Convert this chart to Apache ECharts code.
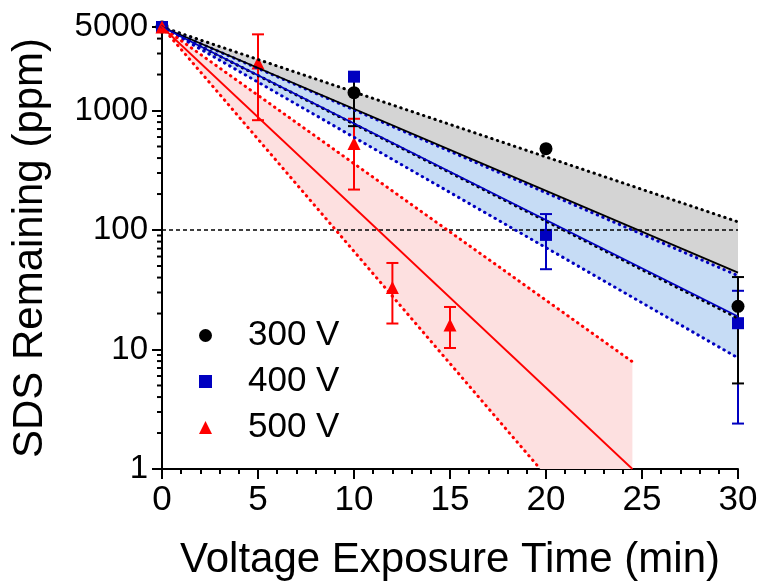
<!DOCTYPE html>
<html><head><meta charset="utf-8">
<script src="https://cdn.jsdelivr.net/npm/echarts@6/dist/echarts.min.js"></script>
<style>html,body{margin:0;padding:0;background:#fff}#c{width:760px;height:585px}</style>
</head><body><div id="c"></div>
<script>
const FONT = '"Liberation Sans", Arial, Helvetica, sans-serif';

const seriesNames = ['300 V', '400 V', '500 V'];

const times300 = [0, 10, 20, 30];
const sds300   = [5000, 1410, 479, 23];
const times400 = [0, 10, 20, 30];
const sds400   = [5000, 1920, 91, 16.6];
const times500 = [0, 5, 10, 12, 15];
const sds500   = [5000, 2500, 530, 33, 16];

// error bars
const errX300 = [10, 30];            const errLo300 = [740, 5.2];   const errHi300 = [2000, 40.4];
const errX400 = [20, 30];            const errLo400 = [47, 2.4];    const errHi400 = [136, 31];
const errX500 = [5, 10, 12, 15];     const errLo500 = [830, 218, 16.5, 10.3]; const errHi500 = [4340, 853, 53, 22.7];

// exponential fits (straight on log axis) and 95% bands
const fitX300 = [0, 30]; const fit300 = [5000, 44];   const fit300Up = [5000, 117];  const fit300Lo = [5000, 18.3];
const fitX400 = [0, 30]; const fit400 = [5000, 18.9]; const fit400Up = [5000, 41.5]; const fit400Lo = [5000, 8.5];
const fitX500 = [0, 24.5]; const fit500 = [5000, 1]; const fit500Up = [5000, 7.9];
const fitX500Lo = [0, 19.7, 24.5]; const fit500Lo = [5000, 1, 1];

// threshold line
const thresholdX = [0, 30]; const threshold = [100, 100];

// axis ticks
const yTickLabels = [1, 10, 100, 1000, 5000];
const yMinorTicks = [2,3,4,5,6,7,8,9,20,30,40,50,60,70,80,90,200,300,400,500,600,700,800,900,2000,3000,4000];

const C_BLACK = '#000000', C_BLUE = '#0000c0', C_RED = '#ff0000';

function pairs(xs, ys) { return xs.map((x, i) => [x, ys[i]]); }

function band(upX, upY, loX, loY, fill) {
  return {
    type: 'custom', silent: true, clip: true, animation: false,
    data: [[upX[0], upY[0]]],
    renderItem: (p, api) => {
      const pts = [];
      upX.forEach((x, i) => pts.push(api.coord([x, upY[i]])));
      for (let i = loX.length - 1; i >= 0; i--) pts.push(api.coord([loX[i], loY[i]]));
      return { type: 'polygon', shape: { points: pts }, style: { fill: fill } };
    }
  };
}
function line(xs, ys, color, style) {
  let ls;
  if (style === 'dotted') ls = { color, width: 3, type: [0.5, 5.5], cap: 'round' };
  else if (style === 'dashed') ls = { color, width: 1.5, type: [4, 3] };
  else ls = { color, width: 1.8 };
  return {
    type: 'line', data: pairs(xs, ys), showSymbol: false, symbol: 'none', silent: true, animation: false,
    lineStyle: ls
  };
}
function errBars(xs, lo, hi, color) {
  return {
    type: 'custom', silent: true, clip: false, animation: false,
    data: xs.map((x, i) => [x, lo[i], hi[i]]),
    encode: { x: 0, y: [1, 2] },
    renderItem: (p, api) => {
      const x = api.value(0);
      const a = api.coord([x, api.value(1)]);
      const b = api.coord([x, api.value(2)]);
      const w = 6, st = { stroke: color, lineWidth: 2 };
      return { type: 'group', children: [
        { type: 'line', shape: { x1: a[0], y1: a[1], x2: b[0], y2: b[1] }, style: st },
        { type: 'line', shape: { x1: a[0] - w, y1: a[1], x2: a[0] + w, y2: a[1] }, style: st },
        { type: 'line', shape: { x1: b[0] - w, y1: b[1], x2: b[0] + w, y2: b[1] }, style: st }
      ]};
    }
  };
}
function scatter(name, xs, ys, color, symbol, size) {
  return { name, type: 'scatter', data: pairs(xs, ys), symbol, symbolSize: size, clip: false, animation: false,
           itemStyle: { color, opacity: 1 } };
}

const chart = echarts.init(document.getElementById('c'), null, { renderer: 'canvas' });
chart.setOption({
  backgroundColor: '#ffffff',
  animation: false,
  textStyle: { fontFamily: FONT },
  grid: { left: 162, right: 22, top: 27, bottom: 116, containLabel: false, outerBoundsMode: 'none' },
  legend: {
    orient: 'vertical', left: 199, top: 318, padding: 0, itemGap: 11,
    itemWidth: 13, itemHeight: 13, selectedMode: false,
    textStyle: { fontSize: 35, color: '#000', fontFamily: FONT, padding: [0, 0, 0, 31] },
    data: [{ name: seriesNames[0], icon: 'circle' }, { name: seriesNames[1], icon: 'rect' }, { name: seriesNames[2], icon: 'triangle' }]
  },
  xAxis: {
    type: 'value', min: 0, max: 30, interval: 5,
    name: 'Voltage Exposure Time (min)', nameLocation: 'middle', nameGap: 70,
    nameTextStyle: { fontSize: 42, color: '#000', fontFamily: FONT },
    axisLine: { show: true, onZero: false, lineStyle: { color: '#000', width: 2 } },
    axisTick: { show: true, length: 10, lineStyle: { color: '#000', width: 2 } },
    minorTick: { show: true, splitNumber: 5, length: 5, lineStyle: { color: '#000', width: 2 } },
    splitLine: { show: false }, minorSplitLine: { show: false },
    axisLabel: { fontSize: 35, color: '#000', margin: 14, fontFamily: FONT }
  },
  yAxis: {
    type: 'log', logBase: 10, min: 1, max: 5000,
    name: 'SDS Remaining (ppm)', nameLocation: 'middle', nameGap: 111,
    nameTextStyle: { fontSize: 42, color: '#000', fontFamily: FONT },
    axisLine: { show: true, onZero: false, lineStyle: { color: '#000', width: 2 } },
    axisTick: { show: true, length: 10, lineStyle: { color: '#000', width: 2 } },
    splitLine: { show: false },
    axisLabel: { fontSize: 33, color: '#000', margin: 14, fontFamily: FONT, showMaxLabel: true, showMinLabel: true,
      formatter: v => { const r = Math.round(v); return yTickLabels.indexOf(r) >= 0 ? String(r) : ''; } }
  },
  series: [
    band(fitX300, fit300Up, fitX300, fit300Lo, '#d4d4d4'),
    band(fitX400, fit400Up, fitX400, fit400Lo, '#c6dcf5'),
    band(fitX500, fit500Up, fitX500Lo, fit500Lo, '#fde0e0'),
    line(thresholdX, threshold, C_BLACK, 'dashed'),
    line(fitX300, fit300Up, C_BLACK, 'dotted'),
    line(fitX300, fit300Lo, C_BLACK, 'dotted'),
    line(fitX400, fit400Up, C_BLUE, 'dotted'),
    line(fitX400, fit400Lo, C_BLUE, 'dotted'),
    line(fitX500, fit500Up, C_RED, 'dotted'),
    line(fitX500Lo.slice(0, 2), fit500Lo.slice(0, 2), C_RED, 'dotted'),
    line(fitX300, fit300, C_BLACK, 'solid'),
    line(fitX400, fit400, C_BLUE, 'solid'),
    line(fitX500, fit500, C_RED, 'solid'),
    errBars(errX400, errLo400, errHi400, C_BLUE),
    errBars(errX500, errLo500, errHi500, C_RED),
    errBars(errX300, errLo300, errHi300, C_BLACK),
    scatter(seriesNames[0], times300, sds300, C_BLACK, 'circle', 13),
    scatter(seriesNames[1], times400, sds400, C_BLUE, 'rect', 12),
    scatter(seriesNames[2], times500, sds500, C_RED, 'triangle', 13),
    {
      type: 'custom', silent: true, clip: false, animation: false,
      data: yMinorTicks.map(v => [0, v]),
      renderItem: (p, api) => {
        const c = api.coord([0, api.value(1)]);
        return { type: 'line', shape: { x1: c[0] - 5, y1: c[1], x2: c[0], y2: c[1] }, style: { stroke: '#000', lineWidth: 2 } };
      }
    }
  ]
});
</script></body></html>
